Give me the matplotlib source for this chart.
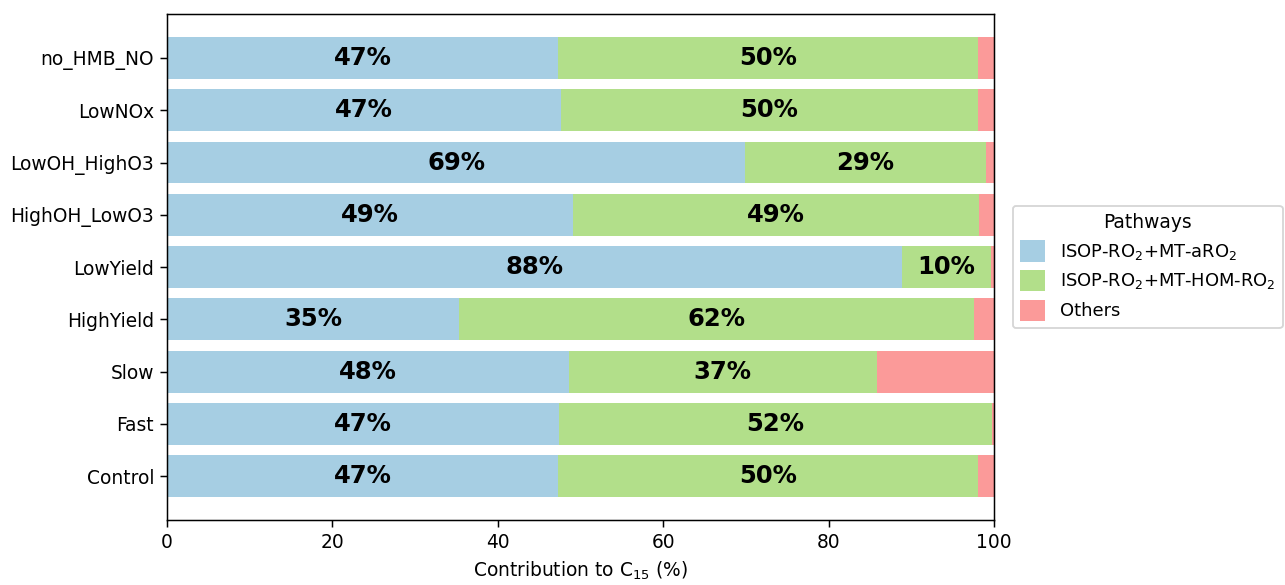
import matplotlib
matplotlib.use("Agg")
import matplotlib.pyplot as plt
import numpy as np

# Scenarios, bottom to top
scenarios = ["Control", "Fast", "Slow", "HighYield", "LowYield",
             "HighOH_LowO3", "LowOH_HighO3", "LowNOx", "no_HMB_NO"]

# Contribution of each pathway to C15 (%)
isop_aro2 = [47.3, 47.4, 48.6, 35.3, 88.9, 49.1, 69.9, 47.6, 47.3]
isop_hom_ro2 = [50.8, 52.4, 37.2, 62.3, 10.7, 49.1, 29.1, 50.5, 50.8]
others = [1.9, 0.2, 14.2, 2.4, 0.4, 1.8, 1.0, 1.9, 1.9]

series_labels = [r"ISOP-RO$_2$+MT-aRO$_2$",
                 r"ISOP-RO$_2$+MT-HOM-RO$_2$",
                 "Others"]
colors = ["#a6cee3", "#b2df8a", "#fb9a99"]

DPI = 134
fig = plt.figure(figsize=(1285 / DPI, 585 / DPI), dpi=DPI)
ax = fig.add_axes([0.13, 0.111, 0.6435, 0.865])

y = np.arange(len(scenarios))
left = np.zeros(len(scenarios))
for vals, lab, col, show in zip([isop_aro2, isop_hom_ro2, others],
                                series_labels, colors, [True, True, False]):
    vals = np.asarray(vals)
    ax.barh(y, vals, left=left, height=0.8, color=col, label=lab)
    if show:
        for yi, l, v in zip(y, left, vals):
            ax.text(l + v / 2, yi, f"{int(v)}%", ha="center", va="center",
                    fontsize=13, fontweight="bold", color="black")
    left = left + vals

ax.set_yticks(y)
ax.set_yticklabels(scenarios)
ax.set_xlim(0, 100)
ax.set_xlabel(r"Contribution to C$_{15}$ (%)")

ax.legend(title="Pathways", loc="center left", bbox_to_anchor=(1.012, 0.5),
          fontsize=9.6, title_fontsize=10,
          handlelength=1.4, handleheight=1.5, handletextpad=0.85,
          labelspacing=0.45)

fig.savefig("out.png", dpi=DPI)
